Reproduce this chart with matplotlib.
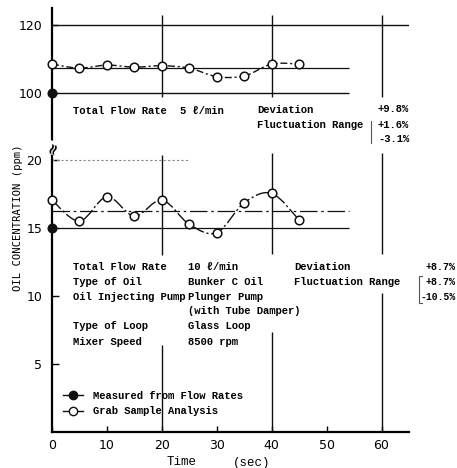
import matplotlib
matplotlib.use("Agg")
import matplotlib.pyplot as plt
import numpy as np
from matplotlib.path import Path
from matplotlib.patches import PathPatch
from matplotlib.lines import Line2D

# ---------------- data ----------------
time_s = [0, 5, 10, 15, 20, 25, 30, 35, 40, 45]
upper_grab = [108.5, 107.3, 108.2, 107.6, 108.0, 107.3, 104.8, 105.0, 108.5, 108.5]
lower_grab = [17.06, 15.51, 17.3, 15.88, 17.06, 15.27, 14.66, 16.86, 17.55, 15.59]
upper_flow = 100.0
lower_flow = 15.0
upper_mean = 107.3
lower_mean = 16.27
x_ticks = [0, 10, 20, 30, 40, 50, 60]
upper_yticks = [100, 120]
lower_yticks = [5, 10, 15, 20]

W, H = 457, 468
fig = plt.figure(figsize=(W / 100, H / 100), dpi=100)

def fx(x):
    return x / W

def fy(y):
    return 1 - y / H

left, right = 52, 409
ax_top = fig.add_axes([fx(left), fy(150), (right - left) / W, (150 - 8) / H])
ax_bot = fig.add_axes([fx(left), fy(432), (right - left) / W, (432 - 150) / H])

ax_top.set_xlim(0, 65)
ax_bot.set_xlim(0, 65)
ax_top.set_ylim(83.2, 125)
ax_bot.set_ylim(0, 20.74)

for ax in (ax_top, ax_bot):
    ax.patch.set_alpha(0)
    for s in ("top", "right"):
        ax.spines[s].set_visible(False)
    ax.spines["left"].set_linewidth(1.6)
ax_top.spines["bottom"].set_visible(False)
ax_bot.spines["bottom"].set_linewidth(1.6)

tickfont = dict(family="DejaVu Sans", size=9)
ax_top.set_xticks([])
ax_top.set_yticks(upper_yticks)
ax_top.set_yticklabels([str(v) for v in upper_yticks], **tickfont)
ax_top.tick_params(axis="y", direction="in", length=4, width=1, pad=7)

ax_bot.set_yticks(lower_yticks)
ax_bot.set_yticklabels([str(v) for v in lower_yticks], **tickfont)
ax_bot.tick_params(axis="y", direction="in", length=5, width=1, pad=7)
ax_bot.set_xticks(x_ticks)
ax_bot.set_xticklabels([str(v) for v in x_ticks], **tickfont)
ax_bot.tick_params(axis="x", direction="in", length=4, width=1, pad=5)

lc = "#111111"
# reference / grid lines (top)
ax_top.hlines(120, 0, 65, color=lc, lw=1.0)
ax_top.hlines(upper_flow, 0, 54, color=lc, lw=1.0)
ax_top.hlines(upper_mean, 0, 54, color=lc, lw=0.9)
ax_top.vlines([20, 40, 60], 98.8, 122.9, color=lc, lw=1.0)

# reference / grid lines (bottom)
ax_bot.hlines(20, 0, 25, color="#888888", lw=0.8, linestyle=(0, (2, 2)))
ax_bot.hlines(lower_flow, 0, 54, color=lc, lw=0.9)
ax_bot.hlines(lower_mean, 0, 54, color=lc, lw=0.9, linestyle=(0, (14, 3, 2, 3)))
ax_bot.vlines(20, 0, 6.4, color=lc, lw=1.0)
ax_bot.vlines(20, 13.0, 20.4, color=lc, lw=1.0)
ax_bot.vlines(40, 0, 7.35, color=lc, lw=1.0)
ax_bot.vlines(40, 13.1, 20.5, color=lc, lw=1.0)
ax_bot.vlines(60, 0, 10.2, color=lc, lw=1.0)
ax_bot.vlines(60, 13.1, 20.5, color=lc, lw=1.0)

def smooth_path(ax, xs, ys, **kw):
    P = np.column_stack([xs, ys]).astype(float)
    n = len(P)
    verts = [P[0]]
    codes = [Path.MOVETO]
    for i in range(n - 1):
        p0 = P[i - 1] if i > 0 else P[i]
        p1 = P[i]
        p2 = P[i + 1]
        p3 = P[i + 2] if i + 2 < n else P[i + 1]
        c1 = p1 + (p2 - p0) / 6.0
        c2 = p2 - (p3 - p1) / 6.0
        verts += [c1, c2, p2]
        codes += [Path.CURVE4] * 3
    patch = PathPatch(Path(verts, codes), fill=False, transform=ax.transData, **kw)
    ax.add_patch(patch)

smooth_path(ax_top, time_s, upper_grab, lw=1.0, edgecolor=lc, linestyle=(0, (5, 2, 1.5, 2)))
smooth_path(ax_bot, time_s, lower_grab, lw=1.0, edgecolor=lc, linestyle=(0, (9, 2, 1.5, 2)))

mk = dict(marker="o", ms=6.2, mfc="white", mec=lc, mew=1.1, linestyle="none", clip_on=False, zorder=5)
ax_top.plot(time_s, upper_grab, **mk)
ax_bot.plot(time_s, lower_grab, **mk)
ax_top.plot([0], [upper_flow], marker="o", ms=6.2, color=lc, linestyle="none", clip_on=False, zorder=6)
ax_bot.plot([0], [lower_flow], marker="o", ms=6.2, color=lc, linestyle="none", clip_on=False, zorder=6)

# break symbol
fig.text(fx(53), fy(148), "\u2248", ha="center", va="center", fontsize=11, rotation=70,
         family="DejaVu Sans", weight="bold",
         bbox=dict(facecolor="white", edgecolor="none", pad=0.2))

MONO = ["Liberation Mono", "DejaVu Sans Mono"]
tf = dict(family=MONO, weight="bold", size=7.6, va="center", ha="left")

def T(x, y, s, **kw):
    d = dict(tf)
    d.update(kw)
    fig.text(fx(x), fy(y), s, **d)

# upper annotation
T(73, 111, "Total Flow Rate")
T(180, 111, "5 \u2113/min")
T(257, 110, "Deviation")
T(257, 125, "Fluctuation Range")
T(377, 109, "+9.8%")
T(377, 125, "+1.6%")
T(378, 139, "-3.1%")
fig.add_artist(Line2D([fx(371), fx(371)], [fy(121), fy(143)], color="#555555", lw=0.8))

# lower annotation
rows = [("Total Flow Rate", "10 \u2113/min", 267),
        ("Type of Oil", "Bunker C Oil", 282),
        ("Oil Injecting Pump", "Plunger Pump", 297),
        ("", "(with Tube Damper)", 311),
        ("Type of Loop", "Glass Loop", 326),
        ("Mixer Speed", "8500 rpm", 342)]
for lab, val, y in rows:
    if lab:
        T(73, y, lab)
    T(188, y, val)
T(294, 267, "Deviation")
T(294, 282, "Fluctuation Range")
T(456, 267, "+8.7%", ha="right", size=7.2)
T(456, 282, "+8.7%", ha="right", size=7.2)
T(456, 297, "-10.5%", ha="right", size=7.0)
fig.add_artist(Line2D([fx(422), fx(419), fx(419), fx(422)],
                      [fy(276), fy(276), fy(303), fy(303)], color="#555555", lw=0.8))

# legend
handles = [Line2D([], [], color=lc, lw=1.0, marker="o", ms=6, mfc=lc, mec=lc),
           Line2D([], [], color=lc, lw=1.0, marker="o", ms=6, mfc="white", mec=lc)]
leg = ax_bot.legend(handles, ["Measured from Flow Rates", "Grab Sample Analysis"],
                    loc="center left", bbox_to_anchor=(fx(63), fy(403.5)), bbox_transform=fig.transFigure,
                    frameon=False, handlelength=1.9, handletextpad=0.95, labelspacing=0.55,
                    prop=dict(family=MONO, weight="bold", size=7.6),
                    borderpad=0, borderaxespad=0)

# axis labels
fig.text(fx(18), fy(218), "OIL CONCENTRATION (ppm)", rotation=90, ha="center", va="center",
         family="DejaVu Sans Mono", size=7.6)
fig.text(fx(182), fy(462), "Time", ha="center", va="center", family=MONO, size=9)
fig.text(fx(252), fy(463), "(sec)", ha="center", va="center", family=MONO, size=9)

fig.savefig("out.png", dpi=100)
